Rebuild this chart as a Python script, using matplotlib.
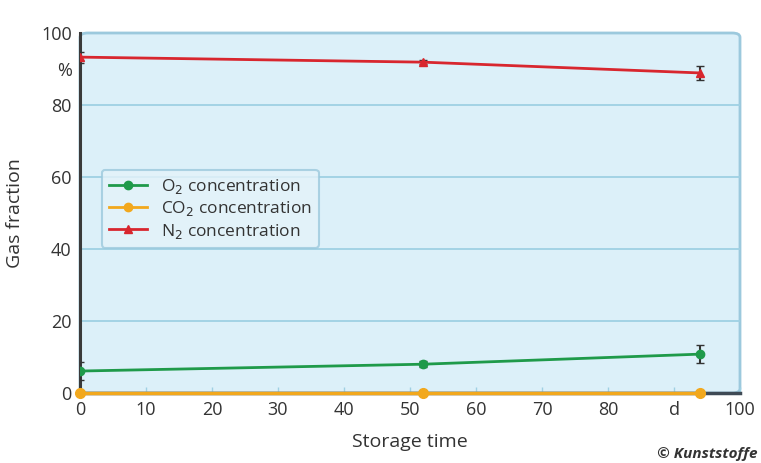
import numpy as np
import matplotlib.pyplot as plt
from matplotlib.patches import FancyBboxPatch
from matplotlib.lines import Line2D

plt.rcParams['font.family'] = ['Open Sans', 'DejaVu Sans']

days = [0, 52, 94]
o2 = [6.1, 8.0, 10.8]
o2_err = [2.5, 0.8, 2.5]
co2 = [0.0, 0.0, 0.0]
n2 = [93.3, 91.9, 88.9]
n2_err = [1.5, 0.6, 2.0]

x_ticks = [0, 10, 20, 30, 40, 50, 60, 70, 80, 90, 100]
x_labels = ["0", "10", "20", "30", "40", "50", "60", "70", "80", "d", "100"]
y_ticks = [0, 20, 40, 60, 80, 90, 100]
y_labels = ["0", "20", "40", "60", "80", "%", "100"]

fig = plt.figure(figsize=(7.61, 4.63), dpi=100)
ax = fig.add_axes([80 / 761, 70 / 463, 660 / 761, 360 / 463])
ax.set_xlim(0, 100)
ax.set_ylim(0, 100)
ax.set_facecolor("none")

# rounded light-blue plot area
bg = FancyBboxPatch((0, 0), 1, 1, boxstyle="round,pad=0,rounding_size=0.012",
                    transform=ax.transAxes, facecolor="#dcf0f9",
                    edgecolor="#9cc9dd", linewidth=2, zorder=0, clip_on=False)
ax.add_patch(bg)

for gy in [20, 40, 60, 80]:
    ax.axhline(gy, color="#9fd0e3", linewidth=1.3, zorder=1)

for s in ["top", "right"]:
    ax.spines[s].set_visible(False)
ax.spines["left"].set_color("#3a3a3a")
ax.spines["left"].set_linewidth(2.2)
ax.spines["bottom"].set_color("#3f4a55")
ax.spines["bottom"].set_linewidth(2.5)

green, orange, red = "#1f9a4a", "#f2a81d", "#d8262e"

ax.errorbar(days, o2, yerr=o2_err, color=green, marker="o", markersize=6,
            linewidth=2, ecolor="#333333", elinewidth=1.5, capsize=3, zorder=4)
ax.plot(days, co2, color=orange, marker="o", markersize=7, linewidth=2.5,
        zorder=4, clip_on=False)
ax.errorbar(days, n2, yerr=n2_err, color=red, marker="^", markersize=6,
            linewidth=2, ecolor="#333333", elinewidth=1.5, capsize=3, zorder=4)

ax.set_xticks(x_ticks)
ax.set_xticklabels(x_labels)
ax.set_yticks(y_ticks)
ax.set_yticklabels(y_labels)
ax.tick_params(axis="both", labelsize=13, labelcolor="#333333", length=0, pad=6)
ax.tick_params(axis="x", direction="in", length=4, color="#9fd0e3", width=1)

ax.set_xlabel("Storage time", fontsize=14, color="#333333", labelpad=10)
ax.set_ylabel("Gas fraction", fontsize=14, color="#333333", labelpad=12)

handles = [
    Line2D([], [], color=green, marker="o", markersize=6, linewidth=2),
    Line2D([], [], color=orange, marker="o", markersize=6, linewidth=2),
    Line2D([], [], color=red, marker="^", markersize=6, linewidth=2),
]
labels = ["O$_2$ concentration", "CO$_2$ concentration", "N$_2$ concentration"]
leg = ax.legend(handles, labels, loc="lower left", bbox_to_anchor=(0.02, 0.38),
                fontsize=12.5, frameon=True, fancybox=True, handlelength=2.2,
                borderpad=0.4, labelspacing=0.2, labelcolor="#333333")
leg.get_frame().set_facecolor("#e4f3fa")
leg.get_frame().set_edgecolor("#9cc9dd")
leg.get_frame().set_linewidth(1.5)

fig.text(0.995, 0.005, "© Kunststoffe", ha="right", va="bottom",
         fontsize=11, fontweight="bold", style="italic", color="#333333")

fig.savefig("out.png", dpi=100)
